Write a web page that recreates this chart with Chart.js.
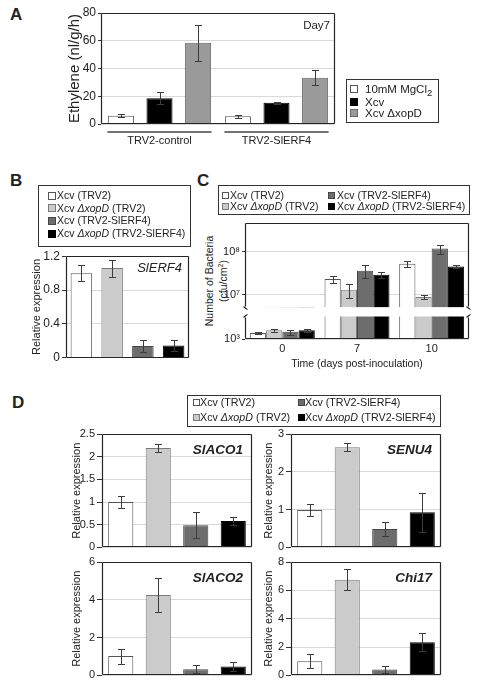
<!DOCTYPE html>
<html>
<head>
<meta charset="utf-8">
<script src="https://cdn.jsdelivr.net/npm/chart.js@4.4.1/dist/chart.umd.min.js"></script>
<style>
  body { margin: 0; background: #fff; width: 480px; height: 687px; position: relative; overflow: hidden;
         font-family: "Liberation Sans", Arial, sans-serif; color: #222; }
  canvas { position: absolute; }
  .t { position: absolute; white-space: nowrap; }
  .t i { font-family: "Liberation Sans", Arial, sans-serif; font-style: italic; }
  .box { position: absolute; border: 1px solid #333; box-sizing: border-box; }
  .sw { position: absolute; box-sizing: border-box; border: 1px solid #444; }
  .letter { position: absolute; font-weight: bold; font-size: 17px; line-height: 17px; }
</style>
</head>
<body>
<div class="letter" style="left:10px;top:6px">A</div>
<div class="letter" style="left:10px;top:172px">B</div>
<div class="letter" style="left:197px;top:172px">C</div>
<div class="letter" style="left:12px;top:394px">D</div>
<div class="t" style="left:151px;top:267px;width:130px;height:28px;transform:rotate(-90deg);text-align:center;font-size:10.5px;line-height:14px">Number of Bacteria<br>(cfu/cm<sup style="font-size:7px;line-height:0">2</sup>)</div>

<script>
Chart.defaults.font.family = '"Liberation Sans", Arial, sans-serif';
Chart.defaults.color = '#222';

// A: ethylene (nl/g/h), day 7
const aGroups = ['TRV2-control', 'TRV2-SlERF4'];
const aSeries = ['10mM MgCl<sub>2</sub>', 'Xcv', 'Xcv ΔxopD'];
const aMgCl2 = [6.0, 5.5];
const aMgCl2Err = [1.2, 1.1];
const aXcv = [18.5, 15.4];
const aXcvErr = [4.3, 0.7];
const aXopD = [58.5, 33.4];
const aXopDErr = [12.9, 5.6];

// conditions used in B, C and D
const conds = ['Xcv (TRV2)', 'Xcv ΔxopD (TRV2)', 'Xcv (TRV2-SlERF4)', 'Xcv ΔxopD (TRV2-SlERF4)'];

// B: SlERF4 relative expression
const bErf4 = [1.0, 1.06, 0.14, 0.145];
const bErf4Err = [0.095, 0.1, 0.07, 0.07];

// C: bacterial numbers (cfu/cm2)
const cDays = ['0', '7', '10'];
const cTrv2 = [1870, 2.3e7, 5.25e7];
const cTrv2Err = [150, 0.45e7, 0.9e7];
const cXopdTrv2 = [2460, 1.3e7, 8.7e6];
const cXopdTrv2Err = [450, 0.45e7, 1.0e6];
const cErf4 = [2100, 3.6e7, 1.19e8];
const cErf4Err = [550, 1.2e7, 2.8e7];
const cXopdErf4 = [2460, 2.9e7, 4.55e7];
const cXopdErf4Err = [300, 0.4e7, 0.45e7];

// D: relative expression of marker genes
const dAco1 = [1.0, 2.19, 0.49, 0.58];
const dAco1Err = [0.14, 0.08, 0.28, 0.09];
const dEnu4 = [0.99, 2.65, 0.49, 0.93];
const dEnu4Err = [0.17, 0.1, 0.19, 0.51];
const dAco2 = [1.02, 4.25, 0.32, 0.47];
const dAco2Err = [0.4, 0.9, 0.21, 0.24];
const dChi17 = [1.0, 6.74, 0.42, 2.34];
const dChi17Err = [0.48, 0.75, 0.26, 0.65];

const condColors = ['#ffffff', '#cbcbcb', '#6d6d6d', '#000000'];
const condBorders = ['#555555', '#7a7a7a', '#444444', '#000000'];
const aColors = ['#ffffff', '#000000', '#9a9a9a'];
const aBorders = ['#555555', '#000000', '#666666'];

const ital = s => s.replace('ΔxopD', '<i>ΔxopD</i>');

// ---- plugins ----
function hook(ctx, x, y, d) {
  ctx.moveTo(x - 2, y);
  ctx.quadraticCurveTo(x, y + 2 * d, x + 2, y + 3 * d);
}

function frame(sides) {
  return {
    id: 'frame',
    afterDraw(chart) {
      const {ctx, chartArea: a} = chart;
      const l = Math.round(a.left) + 0.5, r = Math.round(a.right) - 0.5;
      const t = Math.round(a.top) + 0.5, b = Math.round(a.bottom) - 0.5;
      ctx.save();
      ctx.strokeStyle = '#262626';
      ctx.lineWidth = 1.2;
      ctx.beginPath();
      if (sides.includes('t')) { ctx.moveTo(l, t); ctx.lineTo(r, t); }
      if (sides.includes('b')) { ctx.moveTo(l, b); ctx.lineTo(r, b); }
      if (sides.includes('l')) { ctx.moveTo(l, t); ctx.lineTo(l, b); }
      if (sides.includes('r')) { ctx.moveTo(r, t); ctx.lineTo(r, b); }
      ctx.stroke();
      ctx.beginPath();
      if (!sides.includes('b')) { hook(ctx, l, b, 1); hook(ctx, r, b, 1); }
      if (!sides.includes('t')) { hook(ctx, l, t, -1); hook(ctx, r, t, -1); }
      ctx.stroke();
      ctx.restore();
    }
  };
}

function errorBars(errs) {
  return {
    id: 'errorBars',
    afterDatasetsDraw(chart) {
      const {ctx, chartArea: a, scales: {y}} = chart;
      ctx.save();
      ctx.beginPath();
      ctx.rect(a.left, a.top, a.right - a.left, a.bottom - a.top);
      ctx.clip();
      ctx.strokeStyle = '#3c3c3c';
      ctx.lineWidth = 1;
      ctx.beginPath();
      chart.data.datasets.forEach((ds, d) => {
        const e = errs[d];
        chart.getDatasetMeta(d).data.forEach((bar, i) => {
          const v = ds.data[i];
          const top = Math.round(y.getPixelForValue(v + e[i])) + 0.5;
          const bot = Math.round(y.getPixelForValue(v - e[i])) + 0.5;
          const x = Math.round(bar.x) + 0.5;
          ctx.moveTo(x, top); ctx.lineTo(x, bot);
          ctx.moveTo(x - 3.5, top); ctx.lineTo(x + 3.5, top);
          ctx.moveTo(x - 3.5, bot); ctx.lineTo(x + 3.5, bot);
        });
      });
      ctx.stroke();
      ctx.restore();
    }
  };
}

const groupLines = {
  id: 'groupLines',
  afterDraw(chart) {
    const {ctx, chartArea: a, scales: {x}} = chart;
    const half = (x.getPixelForValue(1) - x.getPixelForValue(0)) * 0.445;
    ctx.save();
    ctx.strokeStyle = '#444';
    ctx.lineWidth = 1.5;
    ctx.beginPath();
    aGroups.forEach((g, i) => {
      const c = x.getPixelForValue(i);
      ctx.moveTo(c - half, a.bottom + 8);
      ctx.lineTo(c + half, a.bottom + 8);
    });
    ctx.stroke();
    ctx.restore();
  }
};

// ---- helpers ----
function place(b) {
  const cv = document.createElement('canvas');
  cv.width = b.x1 - b.x0;
  cv.height = b.y1 - b.y0;
  cv.style.left = b.x0 + 'px';
  cv.style.top = b.y0 + 'px';
  document.body.appendChild(cv);
  return cv;
}

function makeBars(b, o) {
  const cv = place(b);
  const xH = b.y1 - b.B, yW = b.L - b.x0;
  const xAxis = o.xLabels ? {
    afterFit: s => { s.height = xH; },
    grid: {display: false, drawTicks: false},
    border: {display: false},
    ticks: {font: {size: o.xFont || 11}, padding: o.xPad || 4, maxRotation: 0},
    title: o.xTitle
      ? {display: true, text: o.xTitle, font: {size: 10.5}, padding: {top: 0, bottom: 2}}
      : {display: false}
  } : {display: false};
  return new Chart(cv, {
    type: 'bar',
    data: {labels: o.labels, datasets: o.datasets},
    options: {
      responsive: false,
      animation: false,
      events: [],
      layout: {padding: {left: 0, top: b.T - b.y0, right: b.x1 - b.R, bottom: o.xLabels ? 0 : xH}},
      plugins: {legend: {display: false}, tooltip: {enabled: false}},
      scales: {x: xAxis, y: Object.assign({afterFit: s => { s.width = yW; }}, o.y)}
    },
    plugins: [frame(o.sides || 'ltrb'), errorBars(o.errors)].concat(o.extra || [])
  });
}

function linY(max, step, tickSize, title, titleSize, tickLen) {
  return {
    min: 0, max: max,
    ticks: {stepSize: step, font: {size: tickSize}, padding: 2, callback: v => String(+v.toFixed(2))},
    grid: {color: '#d9d9d9', tickLength: tickLen || 4, tickColor: '#333'},
    border: {display: false},
    title: title ? {display: true, text: title, font: {size: titleSize}, padding: 0} : {display: false}
  };
}

function condSet(values, pct) {
  return [{
    data: values,
    backgroundColor: condColors,
    borderColor: condBorders,
    borderWidth: 1,
    barPercentage: pct,
    categoryPercentage: 1,
    clip: 0
  }];
}

function text(html, x, cy, size, css, right) {
  const el = document.createElement('div');
  el.className = 't';
  el.innerHTML = html;
  el.style.fontSize = size + 'px';
  el.style.lineHeight = Math.round(size * 1.2) + 'px';
  el.style.top = (cy - Math.round(size * 1.2) / 2) + 'px';
  if (right) el.style.right = (480 - x) + 'px'; else el.style.left = x + 'px';
  if (css) el.style.cssText += css;
  document.body.appendChild(el);
}

function box(x0, y0, x1, y1) {
  const el = document.createElement('div');
  el.className = 'box';
  el.style.cssText += `left:${x0}px;top:${y0}px;width:${x1 - x0}px;height:${y1 - y0}px`;
  document.body.appendChild(el);
}

function swatch(x, cy, s, color, border) {
  const el = document.createElement('div');
  el.className = 'sw';
  el.style.cssText += `left:${x}px;top:${cy - s / 2}px;width:${s}px;height:${s}px;background:${color};border-color:${border}`;
  document.body.appendChild(el);
}

// ---- A ----
makeBars({x0: 66, y0: 0, x1: 345, y1: 160, L: 101, T: 13, R: 335, B: 124}, {
  labels: aGroups,
  datasets: [aMgCl2, aXcv, aXopD].map((v, k) => ({
    label: aSeries[k], data: v,
    backgroundColor: aColors[k], borderColor: aBorders[k], borderWidth: 1,
    barPercentage: 0.675, categoryPercentage: 0.99, clip: 0
  })),
  errors: [aMgCl2Err, aXcvErr, aXopDErr],
  y: linY(80, 20, 12, 'Ethylene (nl/g/h)', 15, 3),
  xLabels: true, xFont: 11, xPad: 10,
  extra: [groupLines]
});
text('Day7', 330, 25, 11.5, '', true);
box(346, 79, 439, 123);
[89.3, 101.5, 113.3].forEach((cy, k) => {
  swatch(350, cy, 8, aColors[k], aBorders[k]);
  text(aSeries[k], 365, cy, 11.5);
});

// ---- B ----
makeBars({x0: 30, y0: 247, x1: 196, y1: 367, L: 66, T: 255, R: 189, B: 359}, {
  labels: conds,
  datasets: condSet(bErf4, 0.7),
  errors: [bErf4Err],
  y: linY(1.2, 0.4, 12, 'Relative expression', 11, 4)
});
text('<i>SlERF4</i>', 182, 268, 13, '', true);
box(38, 185, 191, 247);
[195.5, 208.2, 220.9, 233.6].forEach((cy, k) => {
  swatch(48, cy, 8, condColors[k], condBorders[k]);
  text(ital(conds[k]), 57, cy, 10.5);
});

// ---- C (broken log axis: upper and lower segment) ----
const cSeries = [cTrv2, cXopdTrv2, cErf4, cXopdErf4];
const cErrs = [cTrv2Err, cXopdTrv2Err, cErf4Err, cXopdErf4Err];
const cSets = () => cSeries.map((v, k) => ({
  label: conds[k], data: v,
  backgroundColor: condColors[k], borderColor: condBorders[k], borderWidth: 1,
  barPercentage: 1, categoryPercentage: 0.87, clip: 0
}));
const logY = (min, max, ticks, names) => ({
  type: 'logarithmic', min: min, max: max,
  afterBuildTicks: s => { s.ticks = ticks.map(v => ({value: v})); },
  ticks: {font: {size: 11}, padding: 2, callback: v => names[ticks.indexOf(v)]},
  grid: {color: '#d9d9d9', tickLength: 3, tickColor: '#333'},
  border: {display: false}
});
makeBars({x0: 200, y0: 213, x1: 475, y1: 316, L: 245, T: 223, R: 469, B: 308}, {
  labels: cDays, datasets: cSets(), errors: cErrs, sides: 'ltr',
  y: logY(Math.pow(10, 6.698), Math.pow(10, 8.674), [1e7, 1e8], ['10⁷', '10⁸'])
});
makeBars({x0: 200, y0: 308, x1: 475, y1: 372, L: 245, T: 316, R: 469, B: 339}, {
  labels: cDays, datasets: cSets(), errors: cErrs, sides: 'lrb',
  y: logY(1e3, 1e4, [1e3], ['10³']),
  xLabels: true, xFont: 11, xPad: 3, xTitle: 'Time (days post-inoculation)'
});
box(218, 185, 470, 215);
[[222, 230, 195], [222, 230, 206.7], [328, 337, 195], [328, 337, 206.7]].forEach((p, k) => {
  swatch(p[0], p[2], 7, condColors[k], condBorders[k]);
  text(ital(conds[k]), p[1], p[2], 10.5);
});

// ---- D ----
const dPanels = [
  {name: 'SlACO1', v: dAco1, e: dAco1Err, max: 2.5, step: 0.5, b: {x0: 70, y0: 424, x1: 258, y1: 556, L: 102, T: 434, R: 252, B: 548}},
  {name: 'SENU4', v: dEnu4, e: dEnu4Err, max: 3, step: 1, b: {x0: 262, y0: 424, x1: 447, y1: 556, L: 291, T: 434, R: 441, B: 548}},
  {name: 'SlACO2', v: dAco2, e: dAco2Err, max: 6, step: 2, b: {x0: 70, y0: 552, x1: 258, y1: 684, L: 102, T: 562, R: 252, B: 676}},
  {name: 'Chi17', v: dChi17, e: dChi17Err, max: 8, step: 2, b: {x0: 262, y0: 552, x1: 447, y1: 684, L: 291, T: 562, R: 441, B: 676}}
];
dPanels.forEach(p => {
  makeBars(p.b, {
    labels: conds,
    datasets: condSet(p.v, 0.67),
    errors: [p.e],
    y: linY(p.max, p.step, 11, 'Relative expression', 11, 5)
  });
  text('<b><i>' + p.name + '</i></b>', p.b.R - 9, p.b.T + 16, 13.5, '', true);
});
box(187, 395, 441, 427);
[[193, 200, 402.3], [193, 200, 417.3], [298, 305, 402.3], [298, 305, 417.3]].forEach((p, k) => {
  swatch(p[0], p[2], 7, condColors[k], condBorders[k]);
  text(ital(conds[k]), p[1], p[2], 10.7);
});
</script>
</body>
</html>
